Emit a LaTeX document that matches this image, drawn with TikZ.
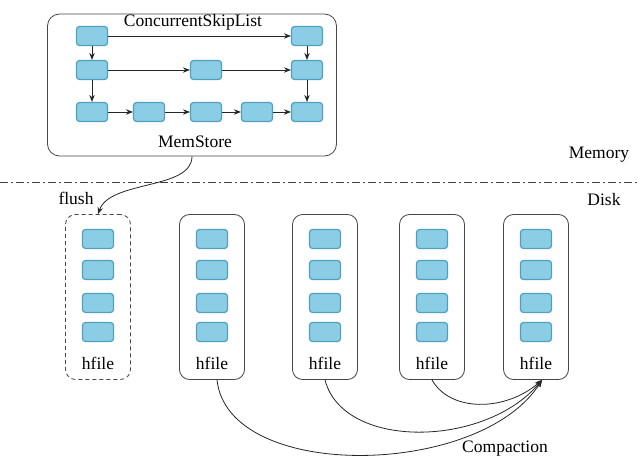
\documentclass[tikz,border=0pt]{standalone}
\usepackage{fontspec}
\setmainfont{Liberation Serif}
\usetikzlibrary{arrows.meta}
\definecolor{cellfill}{RGB}{140,205,230}
\definecolor{celldraw}{RGB}{78,160,190}
\definecolor{frame}{RGB}{70,70,70}
\tikzset{
  cell/.style={draw=celldraw, fill=cellfill, line width=1.2pt, rounded corners=3pt, minimum width=31pt, minimum height=19pt, inner sep=0pt},
  memframe/.style={draw=frame, line width=0.8pt, rounded corners=12pt},
  filebox/.style={draw=frame, line width=0.8pt, rounded corners=10pt, minimum width=65pt, minimum height=165pt, inner sep=0pt},
  lbl/.style={font=\fontsize{17.5}{19}\selectfont, inner sep=0pt, text=black},
  arr/.style={-{Stealth[length=7pt,width=5.5pt]}, line width=0.8pt, draw=black!85},
}
\begin{document}
\begin{tikzpicture}[x=1pt,y=-1pt]
\useasboundingbox (0,0) rectangle (640,476);
% MemStore frame
\node[memframe, minimum width=289pt, minimum height=142pt, inner sep=0pt] (mem) at (192,85) {};
\node[lbl] (csl) at (193,22) {ConcurrentSkipList};
\node[lbl] (mst) at (195,142) {MemStore};
% skip list cells
\foreach \c/\x in {1/92,2/149,3/206,4/257,5/307}{
  \foreach \r/\y in {1/36,2/70,3/112}{
    \coordinate (p\c\r) at (\x,\y);
  }
}
\node[cell] (a11) at (p11) {};
\node[cell] (a51) at (p51) {};
\node[cell] (a12) at (p12) {};
\node[cell] (a32) at (p32) {};
\node[cell] (a52) at (p52) {};
\node[cell] (a13) at (p13) {};
\node[cell] (a23) at (p23) {};
\node[cell] (a33) at (p33) {};
\node[cell] (a43) at (p43) {};
\node[cell] (a53) at (p53) {};
\draw[arr] (a11) -- (a51);
\draw[arr] (a12) -- (a32);
\draw[arr] (a32) -- (a52);
\draw[arr] (a13) -- (a23);
\draw[arr] (a23) -- (a33);
\draw[arr] (a33) -- (a43);
\draw[arr] (a43) -- (a53);
\draw[arr] (a11) -- (a12);
\draw[arr] (a12) -- (a13);
\draw[arr] (a51) -- (a52);
\draw[arr] (a52) -- (a53);
% separator
\coordinate (sl) at (0,182);
\coordinate (sr) at (640,182);
\draw[line width=0.8pt, draw=black!75, dash pattern=on 8pt off 3pt on 2pt off 3pt] (sl) -- (sr);
\node[lbl] (memory) at (599,155) {Memory};
\node[lbl] (disk) at (604,200) {Disk};
\node[lbl] (flush) at (76,198) {flush};
% hfiles
\node[filebox, dashed, dash pattern=on 4pt off 3pt] (f1) at (98,297) {};
\node[filebox] (f2) at (212,297) {};
\node[filebox] (f3) at (325,297) {};
\node[filebox] (f4) at (432,297) {};
\node[filebox] (f5) at (536,297) {};
\foreach \f/\x in {1/98,2/212,3/325,4/432,5/536}{
  \node[cell] (c\f a) at (\x,239) {};
  \node[cell] (c\f b) at (\x,270) {};
  \node[cell] (c\f c) at (\x,303) {};
  \node[cell] (c\f d) at (\x,332) {};
  \node[lbl] (h\f) at (\x,363) {hfile};
}
% flush arrow
\draw[arr] (mem.south) .. controls (192,190) and (110,180) .. (f1.north);
% compaction arrows
\coordinate (tgt) at (542,380);
\draw[arr] ([xshift=5pt]f2.south) .. controls (228,482) and (480,478) .. (tgt);
\draw[arr] (f3.south) .. controls (343,450) and (485,448) .. (tgt);
\draw[arr] (f4.south) .. controls (450,412) and (505,412) .. (tgt);
\node[lbl] (comp) at (505,449) {Compaction};
\end{tikzpicture}
\end{document}
